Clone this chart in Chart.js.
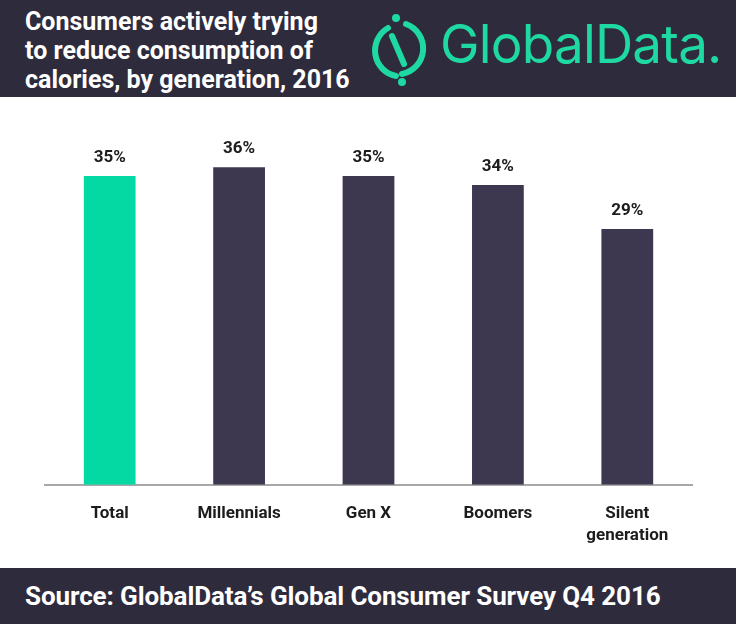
<!DOCTYPE html>
<html>
<head>
<meta charset="utf-8">
<script src="https://cdn.jsdelivr.net/npm/chart.js@4"></script>
<style>
  html, body { margin: 0; padding: 0; background: #fff; }
  body { width: 736px; height: 624px; position: relative; overflow: hidden; font-family: Roboto, "Open Sans", sans-serif; }
  #head { position: absolute; left: 0; top: 0; width: 736px; height: 97px; background: #2e2b3d; }
  #title { position: absolute; left: 25px; top: 7px; color: #fff; font-size: 25px; font-weight: 700; line-height: 29px; letter-spacing: 0; }
  #logo { position: absolute; left: 366px; top: 12px; }
  #brand { position: absolute; left: 440px; top: 12px; color: #1fd9a2; font-size: 53px; font-weight: 400; letter-spacing: -0.8px; font-family: Inter, Roboto, sans-serif; }
  #wrap { position: absolute; left: 0; top: 97px; width: 736px; height: 471px; }
  #foot { position: absolute; left: 0; top: 568px; width: 736px; height: 56px; background: #2e2b3d; color: #fff; font-size: 26px; font-weight: 700; line-height: 56px; padding-left: 25px; box-sizing: border-box; letter-spacing: -0.1px; }
</style>
</head>
<body>
<div id="head">
  <div id="title">Consumers actively trying<br>to reduce consumption of<br>calories, by generation, 2016</div>
  <svg id="logo" width="66" height="74" viewBox="0 0 66 74">
    <path d="M22 16 A26 26 0 0 0 30 64" fill="none" stroke="#1fd9a2" stroke-width="6" stroke-linecap="round"/>
    <path d="M40 12 A26 26 0 0 1 36 62" fill="none" stroke="#1fd9a2" stroke-width="6" stroke-linecap="round"/>
    <line x1="26" y1="24" x2="38" y2="52" stroke="#1fd9a2" stroke-width="6" stroke-linecap="round"/>
    <circle cx="30" cy="6" r="4" fill="#1fd9a2"/>
    <circle cx="36" cy="70" r="4" fill="#1fd9a2"/>
  </svg>
  <div id="brand">GlobalData.</div>
</div>
<div id="wrap"><canvas id="barChart"></canvas></div>
<div id="foot">Source: GlobalData’s Global Consumer Survey Q4 2016</div>
<script>
// data
const categories = ["Total", "Millennials", "Gen X", "Boomers", ["Silent", "generation"]];
const shares = [35, 36, 35, 34, 29];
const barColors = ["#05d9a3", "#3d384f", "#3d384f", "#3d384f", "#3d384f"];

// value labels above the bars
const valueLabels = {
  id: 'valueLabels',
  afterDatasetsDraw(chart) {
    const ctx = chart.ctx;
    const meta = chart.getDatasetMeta(0);
    ctx.save();
    ctx.font = "700 17px Roboto, sans-serif";
    ctx.fillStyle = "#1c1c1c";
    ctx.textAlign = "center";
    ctx.textBaseline = "bottom";
    meta.data.forEach((bar, i) => {
      ctx.fillText(shares[i] + "%", bar.x, bar.y - 10);
    });
    ctx.restore();
  }
};

new Chart(document.getElementById("barChart"), {
  type: 'bar',
  data: {
    labels: categories,
    datasets: [{
      data: shares,
      backgroundColor: barColors,
      barPercentage: 0.4,
      categoryPercentage: 1
    }]
  },
  options: {
    responsive: true,
    maintainAspectRatio: false,
    animation: false,
    layout: { padding: { left: 45, right: 44, top: 35, bottom: 3 } },
    plugins: {
      legend: { display: false },
      title: { display: false },
      tooltip: { enabled: false }
    },
    scales: {
      y: { display: false, min: 0, max: 40 },
      x: {
        grid: { display: false, drawTicks: false },
        border: { display: true, color: "#a8a8a8", width: 2 },
        ticks: {
          color: "#1c1c1c",
          font: { family: "Roboto, sans-serif", size: 17, weight: 700, lineHeight: 1.3 },
          padding: 18,
          maxRotation: 0
        }
      }
    }
  },
  plugins: [valueLabels]
});
</script>
</body>
</html>
